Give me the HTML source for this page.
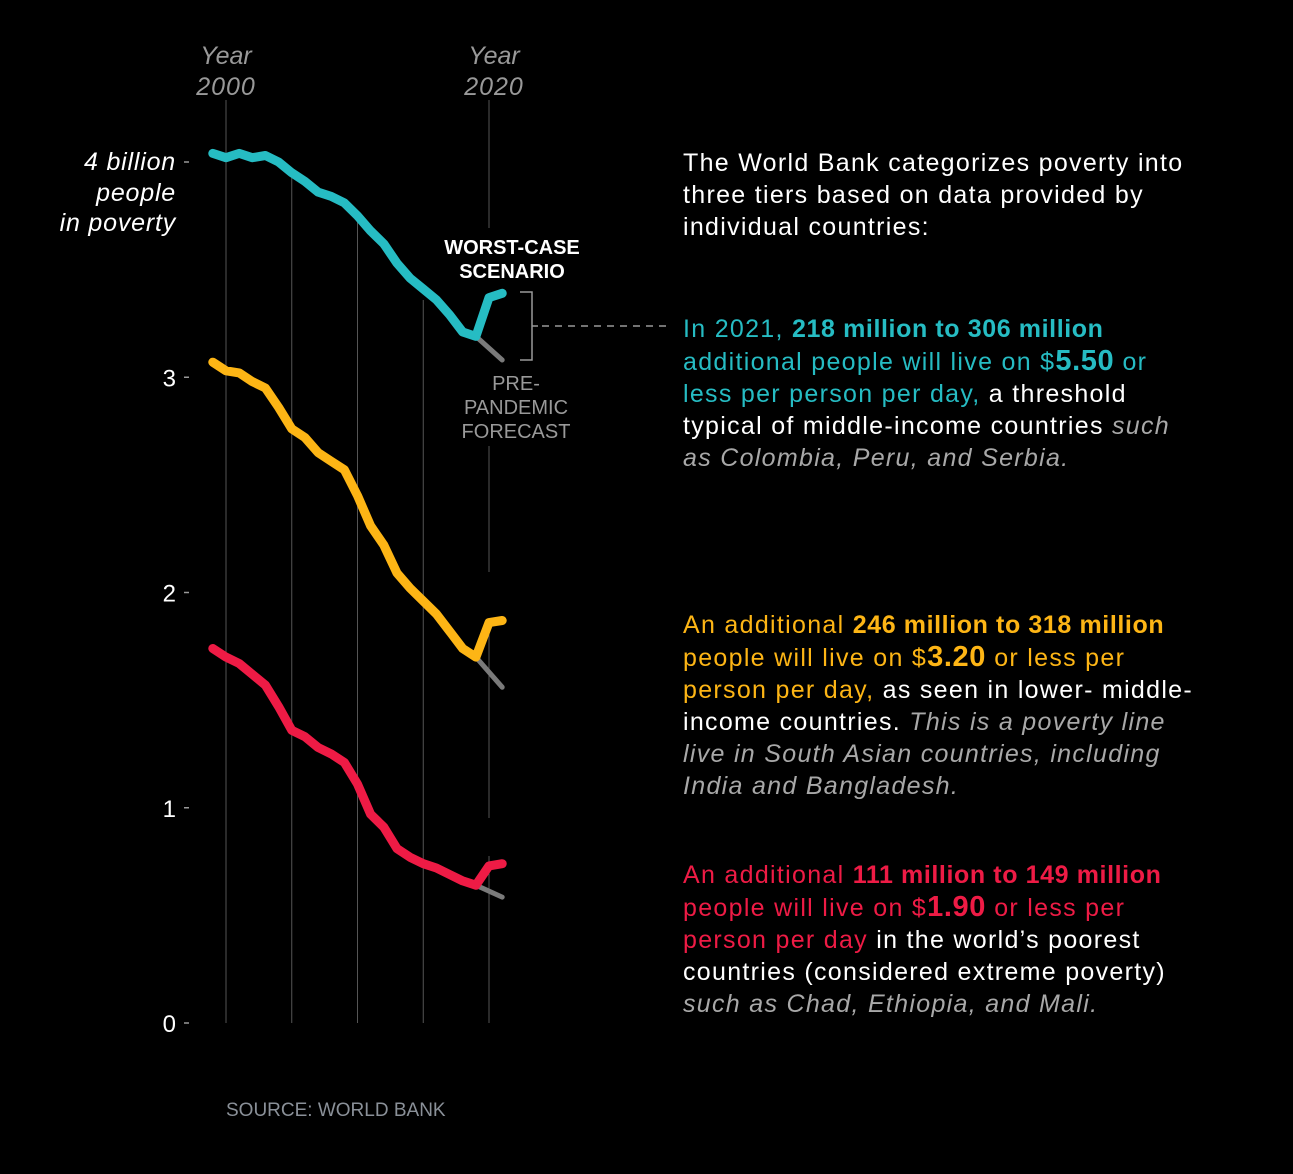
<!DOCTYPE html>
<html><head><meta charset="utf-8">
<style>
html,body{margin:0;padding:0;background:#000;}
body{width:1293px;height:1174px;overflow:hidden;position:relative;font-family:"Liberation Sans",sans-serif;}
.txt{position:absolute;left:683px;font-size:25px;line-height:32px;color:#fff;white-space:nowrap;letter-spacing:1.3px;}
.t{color:#26bcc3}.y{color:#fdb515}.r{color:#ee1b45}.g{color:#a8a8a8;font-style:italic}
b{font-weight:bold;letter-spacing:0.6px}
.big{font-size:29px}
</style></head><body>
<svg id="chart" width="1293" height="1174" style="position:absolute;left:0;top:0">
<g id="grid"></g>
<g id="axis"></g>
<g id="lines"></g>
<g id="ann">
<text x="226" y="64" fill="#999" font-style="italic" font-size="25" text-anchor="middle">Year</text>
<text x="226" y="95" fill="#999" font-style="italic" font-size="25" text-anchor="middle" letter-spacing="1">2000</text>
<text x="494" y="64" fill="#999" font-style="italic" font-size="25" text-anchor="middle">Year</text>
<text x="494" y="95" fill="#999" font-style="italic" font-size="25" text-anchor="middle" letter-spacing="1">2020</text>
<text fill="#fff" font-style="italic" font-size="25" text-anchor="end" letter-spacing="0.8"><tspan x="176" y="170">4 billion</tspan><tspan x="176" y="201">people</tspan><tspan x="176" y="231">in poverty</tspan></text>
<text fill="#fff" font-weight="bold" font-size="20" text-anchor="middle"><tspan x="512" y="254">WORST-CASE</tspan><tspan x="512" y="278">SCENARIO</tspan></text>
<text fill="#999" font-size="20" text-anchor="middle"><tspan x="516" y="390">PRE-</tspan><tspan x="516" y="414">PANDEMIC</tspan><tspan x="516" y="438">FORECAST</tspan></text>
<path d="M520 292 H532 V360 H520 M532 326 H538" stroke="#999" stroke-width="1.5" fill="none"/>
<line x1="542" y1="326" x2="672" y2="326" stroke="#999" stroke-width="1.5" stroke-dasharray="7,6"/>
<text x="226" y="1116" fill="#8a9098" font-size="19">SOURCE: WORLD BANK</text>
</g>
</svg>

<div class="txt" style="top:147px">The World Bank categorizes poverty into<br>three tiers based on data provided by<br>individual countries:</div>
<div class="txt" style="top:313px"><span class="t">In 2021, <b>218 million to 306 million</b></span><br><span class="t">additional people will live on $<b class="big">5.50</b> or</span><br><span class="t">less per person per day,</span> a threshold<br>typical of middle-income countries <span class="g">such</span><br><span class="g">as Colombia, Peru, and Serbia.</span></div>
<div class="txt" style="top:609px"><span class="y">An additional <b>246 million to 318 million</b></span><br><span class="y">people will live on $<b class="big">3.20</b> or less per</span><br><span class="y">person per day,</span> as seen in lower- middle-<br>income countries. <span class="g">This is a poverty line</span><br><span class="g">live in South Asian countries, including</span><br><span class="g">India and Bangladesh.</span></div>
<div class="txt" style="top:859px"><span class="r">An additional <b>111 million to 149 million</b></span><br><span class="r">people will live on $<b class="big">1.90</b> or less per</span><br><span class="r">person per day</span> in the world’s poorest<br>countries (considered extreme poverty)<br><span class="g">such as Chad, Ethiopia, and Mali.</span></div>

<script>
const years = [1999,2000,2001,2002,2003,2004,2005,2006,2007,2008,2009,2010,2011,2012,2013,2014,2015,2016,2017,2018,2019,2020,2021];
const tier550 = [4.04,4.02,4.04,4.02,4.03,4.00,3.95,3.91,3.86,3.84,3.81,3.75,3.68,3.62,3.53,3.46,3.41,3.36,3.29,3.21,3.19,3.37,3.39];
const tier320 = [3.07,3.03,3.02,2.98,2.95,2.86,2.76,2.72,2.65,2.61,2.57,2.45,2.31,2.22,2.09,2.02,1.96,1.90,1.82,1.74,1.70,1.86,1.87];
const tier190 = [1.74,1.70,1.67,1.62,1.57,1.47,1.36,1.33,1.28,1.25,1.21,1.11,0.97,0.91,0.81,0.77,0.74,0.72,0.69,0.66,0.64,0.73,0.74];
const forecastYears = [2019,2021];
const forecast550 = [3.19,3.08];
const forecast320 = [1.70,1.56];
const forecast190 = [0.64,0.585];
const yTicks = [0,1,2,3];
const gridYears = [2000,2005,2010,2015,2020];

const NS='http://www.w3.org/2000/svg';
function xs(yr){return 226+(yr-2000)*13.15;}
function ys(v){return 1023-v*215.25;}
function mk(tag,attrs,parent){const e=document.createElementNS(NS,tag);for(const k in attrs)e.setAttribute(k,attrs[k]);parent.appendChild(e);return e;}

const grid=document.getElementById('grid');
const gridStart={2000:100,2005:178,2010:222,2015:300};
gridYears.forEach(function(yr){
  const x=xs(yr);
  let segs = yr===2020 ? [[100,228],[446,572],[620,818],[856,1023]] : [[gridStart[yr],1023]];
  segs.forEach(function(s){
    const l=mk('line',{x1:x,x2:x,y1:s[0],y2:s[1],stroke:'#555','stroke-width':1},grid);
    
    
  });
});

const axis=document.getElementById('axis');
yTicks.forEach(function(v){
  const t=mk('text',{x:176,y:ys(v)+9,fill:'#fff','font-size':24,'text-anchor':'end'},axis);
  t.textContent=String(v);
  
  
  const d=mk('line',{x1:184,x2:189,y1:ys(v),y2:ys(v),stroke:'#999','stroke-width':1.5},axis);
  
  
});
const d4=mk('line',{x1:184,x2:189,y1:ys(4),y2:ys(4),stroke:'#999','stroke-width':1.5},axis);



const lines=document.getElementById('lines');
function pathD(xv,vals){return vals.map(function(v,i){return (i?'L':'M')+xs(xv[i]).toFixed(1)+' '+ys(v).toFixed(1);}).join(' ');}
[[forecast550,'forecast-5-50'],[forecast320,'forecast-3-20'],[forecast190,'forecast-1-90']].forEach(function(f){
  const p=mk('path',{d:pathD(forecastYears,f[0]),stroke:'#7a7a7a','stroke-width':5,fill:'none','stroke-linecap':'round'},lines);
  
  
});
[[tier550,'#26bcc3','tier-5-50'],[tier320,'#fdb515','tier-3-20'],[tier190,'#ee1b45','tier-1-90']].forEach(function(s){
  const p=mk('path',{d:pathD(years,s[0]),stroke:s[1],'stroke-width':9,fill:'none','stroke-linecap':'round','stroke-linejoin':'round'},lines);
  
  
});
</script>
</body></html>
